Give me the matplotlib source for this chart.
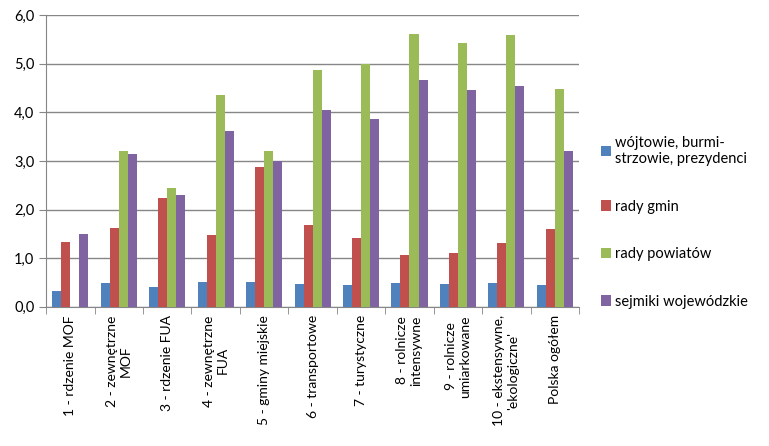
import matplotlib.pyplot as plt
import numpy as np
from matplotlib.ticker import FuncFormatter

plt.rcParams['font.family'] = ['Lato', 'DejaVu Sans']

categories = ["1 - rdzenie MOF", "2 - zewnętrzne\nMOF", "3 - rdzenie FUA",
              "4 - zewnętrzne\nFUA", "5 - gminy miejskie", "6 - transportowe",
              "7 - turystyczne", "8 - rolnicze\nintensywne", "9 - rolnicze\numiarkowane",
              "10 - ekstensywne,\n'ekologiczne'", "Polska ogółem"]

wojtowie = [0.33, 0.49, 0.41, 0.51, 0.52, 0.47, 0.45, 0.49, 0.47, 0.49, 0.45]
rady_gmin = [1.34, 1.63, 2.24, 1.48, 2.88, 1.69, 1.42, 1.07, 1.11, 1.32, 1.60]
rady_powiatow = [0.0, 3.21, 2.45, 4.36, 3.21, 4.88, 5.00, 5.62, 5.43, 5.60, 4.49]
sejmiki = [1.50, 3.15, 2.30, 3.62, 3.00, 4.05, 3.87, 4.67, 4.46, 4.55, 3.21]

series = [
    ("wójtowie, burmi-\nstrzowie, prezydenci", wojtowie, "#4F81BD"),
    ("rady gmin", rady_gmin, "#C0504D"),
    ("rady powiatów", rady_powiatow, "#9BBB59"),
    ("sejmiki wojewódzkie", sejmiki, "#8064A2"),
]

fig = plt.figure(figsize=(7.69, 4.46), dpi=100)
ax = fig.add_axes([0.06, 0.312, 0.693, 0.654])

x = np.arange(len(categories))
w = 0.186
for i, (name, vals, col) in enumerate(series):
    ax.bar(x + (i - 1.5) * w, vals, w, color=col, label=name, zorder=3)

ax.set_xlim(-0.5, len(categories) - 0.5)
ax.set_ylim(0, 6)
ax.set_yticks(np.arange(0, 6.1, 1))
ax.yaxis.set_major_formatter(FuncFormatter(lambda v, p: f"{v:.1f}".replace(".", ",")))
ax.grid(axis='y', color='#868686', linewidth=1, zorder=0)

ax.set_xticks(x)
ax.set_xticklabels(categories, rotation=90, fontsize=10, multialignment='center')
ax.set_xticks(np.arange(-0.5, len(categories)), minor=True)
ax.tick_params(axis='x', which='major', length=0, pad=6)
ax.tick_params(axis='x', which='minor', length=5, color='#868686', direction='out')
ax.tick_params(axis='y', length=5, color='#868686', labelsize=10.5)

for s in ['top', 'right']:
    ax.spines[s].set_visible(False)
for s in ['left', 'bottom']:
    ax.spines[s].set_color('#868686')

leg = fig.legend(loc='upper left', bbox_to_anchor=(0.764, 0.725), frameon=False,
                 fontsize=10.5, handlelength=0.7, handleheight=0.7,
                 handletextpad=0.3, labelspacing=2.3)

fig.savefig("out.png", dpi=100)
